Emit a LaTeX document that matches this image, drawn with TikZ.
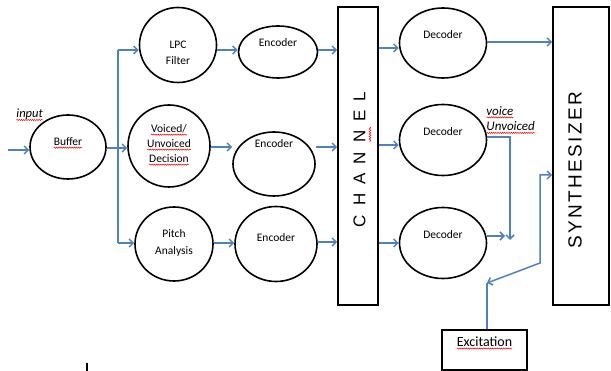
\documentclass[tikz,border=0pt]{standalone}
\usepackage{fontspec}
\setmainfont{Carlito}
\newfontfamily\arialfont{Liberation Sans}
\usetikzlibrary{arrows.meta,decorations.pathmorphing,shapes.geometric}
\definecolor{lineblue}{HTML}{4F81BD}
\newcommand{\sq}[1]{\pgfinterruptpicture\tikz[baseline=(w.base),x=1pt,y=1pt]{\node[inner sep=0pt,outer sep=0pt] (w) {#1};\draw[red, line width=0.5pt, decorate, decoration={snake, amplitude=0.6pt, segment length=2.2pt}] ([yshift=-2.2pt]w.base west) -- ([yshift=-2.2pt]w.base east);}\endpgfinterruptpicture}
\tikzset{
  ell/.style={ellipse, draw=black, line width=1.6pt, inner sep=0pt},
  txt/.style={font=\fontsize{11.5}{15.5}\selectfont, align=center, inner sep=0pt},
  conn/.style={draw=lineblue, line width=1.5pt, -{Straight Barb[length=4pt,width=8pt]}},
  plain/.style={draw=lineblue, line width=1.5pt},
  bigbox/.style={draw=black, line width=1.6pt, inner sep=0pt},
}
\begin{document}
\begin{tikzpicture}[x=1pt,y=-1pt]
\useasboundingbox (0,0) rectangle (611,371);
\fill[white] (0,0) rectangle (611,371);
% big boxes
\node[bigbox, minimum width=40pt, minimum height=298pt] (chan) at (358,156) {};
\node[bigbox, minimum width=56pt, minimum height=298pt] (synth) at (581,156) {};
\node[rotate=90, font=\arialfont\fontsize{17}{17}\selectfont, inner sep=0pt] (chant) at (359.5,159.5)
  {C\hspace{9pt}H\hspace{9pt}A\hspace{9pt}N\hspace{9pt}N\hspace{9pt}E\hspace{9pt}L};
\node[rotate=90, font=\arialfont\fontsize{19}{19}\selectfont, inner sep=0pt] (syntht) at (575,170)
  {S\hspace{2.3pt}Y\hspace{2.3pt}N\hspace{2.3pt}T\hspace{2.3pt}H\hspace{2.3pt}E\hspace{2.3pt}S\hspace{2.3pt}I\hspace{2.3pt}Z\hspace{2.3pt}E\hspace{2.3pt}R};
% ellipses
\node[ell, minimum width=76pt, minimum height=64pt] (buf) at (68,147) {};
\node[txt] (buft) at (68,143) {\sq{Buffer}};
\node[ell, minimum width=77pt, minimum height=75pt] (lpc) at (178,45) {};
\node[txt] (lpct) at (178,53) {LPC\\Filter};
\node[ell, minimum width=82pt, minimum height=82pt] (vud) at (169,146) {};
\node[txt, font=\fontsize{11.5}{15}\selectfont] (vudt) at (169,145) {\sq{Voiced/}\\\sq{Unvoiced}\\\sq{Decision}};
\node[ell, minimum width=78pt, minimum height=74pt] (pit) at (174,244) {};
\node[txt, font=\fontsize{11.5}{17}\selectfont] (pitt) at (174,243) {Pitch\\Analysis};
\node[ell, minimum width=79pt, minimum height=52pt] (enc1) at (278,52) {};
\node[txt] (enc1t) at (278,43) {Encoder};
\node[ell, minimum width=82pt, minimum height=64pt] (enc2) at (274,164) {};
\node[txt] (enc2t) at (274,144) {Encoder};
\node[ell, minimum width=82pt, minimum height=75pt] (enc3) at (276,244) {};
\node[txt] (enc3t) at (276,238) {Encoder};
\node[ell, minimum width=87pt, minimum height=70pt] (dec1) at (443,43) {};
\node[txt] (dec1t) at (443,35) {Decoder};
\node[ell, minimum width=87pt, minimum height=71pt] (dec2) at (443,140) {};
\node[txt] (dec2t) at (443,132) {Decoder};
\node[ell, minimum width=87pt, minimum height=71pt] (dec3) at (443,243) {};
\node[txt] (dec3t) at (443,235) {Decoder};
% excitation
\node[draw=black, line width=1.5pt, minimum width=85pt, minimum height=40pt, inner sep=0pt] (exc) at (484.5,350) {};
\node[font=\fontsize{14}{14}\selectfont, inner sep=0pt] (exct) at (484.5,343) {\sq{Excitation}};
% labels
\node[font=\itshape\fontsize{12.5}{12.5}\selectfont, inner sep=0pt, anchor=west] (inp) at (16,115) {\sq{input}};
\node[font=\itshape\fontsize{13}{15.5}\selectfont, inner sep=0pt, anchor=west, align=left] (vuv) at (486,120) {\sq{voice}\\\sq{Unvoiced}};
% connectors
\coordinate (inS) at (8,150);
\draw[conn] (inS) -- (inS -| buf.west);
\coordinate (br) at (118,148);
\draw[conn] (buf.east |- br) -- (vud.west |- br);
\draw[plain] (118,50) -- (118,243);
\coordinate (brT) at (118,50);
\coordinate (brB) at (118,243);
\draw[conn] (brT) -- (brT -| lpc.west);
\draw[conn] (brB) -- (brB -| pit.west);
\coordinate (r1) at (0,50);
\draw[conn] (lpc.east |- r1) -- (enc1.west |- r1);
\draw[conn] (enc1.east |- r1) -- (chan.west |- r1);
\coordinate (r2) at (0,147);
\draw[conn] (vud.east |- r2) -- (enc2.west |- r2);
\draw[conn] (enc2.east |- r2) -- (chan.west |- r2);
\coordinate (r3) at (0,243);
\draw[conn] (pit.east |- r3) -- (enc3.west |- r3);
\coordinate (r3b) at (0,242);
\draw[conn] (enc3.east |- r3b) -- (chan.west |- r3b);
\coordinate (d1) at (0,48);
\draw[conn] (chan.east |- d1) -- (dec1.west |- d1);
\coordinate (d1o) at (0,42);
\draw[conn] (dec1.east |- d1o) -- (synth.west |- d1o);
\coordinate (d2) at (0,145);
\draw[conn] (chan.east |- d2) -- (dec2.west |- d2);
\coordinate (d3) at (0,243);
\draw[conn] (chan.east |- d3) -- (dec3.west |- d3);
\coordinate (vEnd) at (510,240);
\coordinate (d3o) at (505,236);
\draw[conn] (dec3.east |- d3o) -- (d3o);
\coordinate (d2o) at (0,137);
\draw[conn] (dec2.east |- d2o) -| (vEnd);
\coordinate (eTip) at (487,283);
\coordinate (eK) at (540,263);
\coordinate (eS) at (540,175);
\draw[plain, {Straight Barb[length=4pt,width=8pt]}-{Straight Barb[length=4pt,width=8pt]}] (eTip) -- (eK) -- (eS) -- (synth.west |- eS);
\draw[plain] (exc.north -| eTip) -- (eTip);
% red mark next to channel letter
\draw[red, line width=0.6pt, decorate, decoration={snake, amplitude=0.8pt, segment length=2.5pt}] (370,127) -- (370,142);
% small bar at bottom left
\draw[black, line width=2pt] (87,363) -- (87,371);
\end{tikzpicture}
\end{document}
